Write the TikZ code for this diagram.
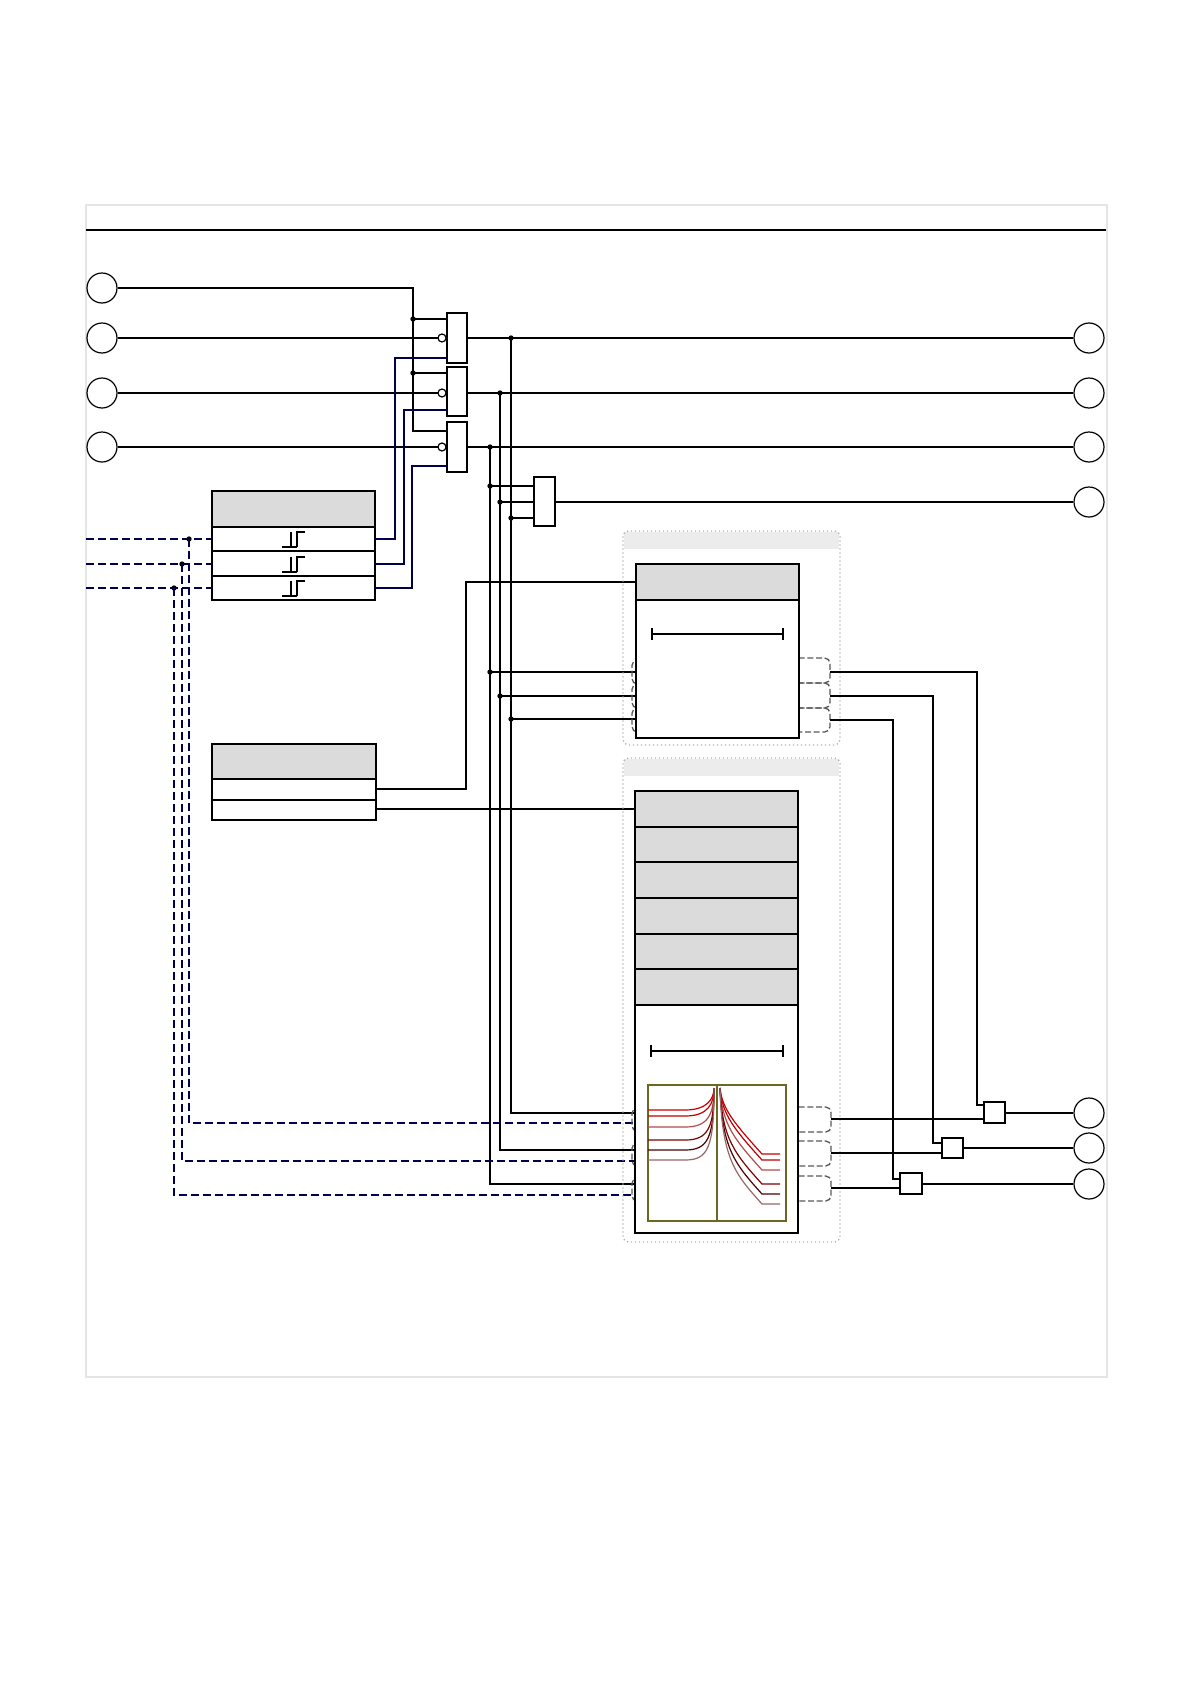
\documentclass[tikz,border=0pt]{standalone}
\begin{document}
\begin{tikzpicture}[x=0.75pt,y=-0.75pt,line width=0.9pt,
  term/.style={draw,circle,minimum size=22.5pt,inner sep=0pt},
  bwire/.style={draw,blue!30!black,line width=1pt},
  dwire/.style={draw,blue!30!black,dash pattern=on 6pt off 3pt,line width=1pt},
  jdot/.style={circle,fill=black,inner sep=0pt,minimum size=4pt},
  port/.style={draw,gray!70!black,dash pattern=on 4.5pt off 2pt,rounded corners=4pt,line width=1pt},
  hdr/.style={fill=gray!28,draw=black},
  cont/.style={draw=gray!60,dotted,rounded corners=4pt,line width=1pt}]
\useasboundingbox (0,0) rectangle (1191,1684);
% frame
\draw[gray!20] (86,205) rectangle (1107,1377);
\draw[line width=1.8pt] (86,230) -- (1106,230);
% terminals
\foreach \n/\y in {L1/288,L2/338,L3/393,L4/447}{\node[term] (\n) at (102,\y) {};}
\foreach \n/\y in {R1/338,R2/393,R3/447,R4/502,R5/1113,R6/1148,R7/1184}{\node[term] (\n) at (1089,\y) {};}
% gates
\draw[fill=white] (447,313) rectangle (467,363);
\draw[line width=1.6pt] (447,313) -- (467,313);
\draw[fill=white] (447,367) rectangle (467,416);
\draw[fill=white] (447,422) rectangle (467,472);
\draw[fill=white] (534,477) rectangle (555,526);
\foreach \y in {338,393,447}{\draw[fill=white] (442,\y) circle (4);}
% bus
\draw (L1) -- (413,288) -- (413,431) -- (447,431);
\draw (413,319) -- (447,319);
\draw (413,373) -- (447,373);
\node[jdot] at (413,319) {}; \node[jdot] at (413,373) {};
\draw (L2) -- (438,338);
\draw (L3) -- (438,393);
\draw (L4) -- (438,447);
% outputs
\draw (467,338) -- (R1); \draw (467,393) -- (R2); \draw (467,447) -- (R3);
\draw (555,502) -- (R4);
\node[jdot] at (511,338) {}; \node[jdot] at (500,393) {}; \node[jdot] at (490,447) {};
\draw (490,447) -- (490,1184) -- (636,1184);
\draw (500,393) -- (500,1150) -- (636,1150);
\draw (511,338) -- (511,1113) -- (636,1113);
\draw (490,486) -- (534,486); \draw (500,502) -- (534,502); \draw (511,518) -- (534,518);
\node[jdot] at (490,486) {}; \node[jdot] at (500,502) {}; \node[jdot] at (511,518) {};
\draw (490,672) -- (636,672); \draw (500,696) -- (636,696); \draw (511,719) -- (636,719);
\node[jdot] at (490,672) {}; \node[jdot] at (500,696) {}; \node[jdot] at (511,719) {};
% schmitt box
\draw[hdr] (212,491) rectangle (375,527);
\draw (212,527) rectangle (375,551); \draw (212,551) rectangle (375,576); \draw (212,576) rectangle (375,600);
\foreach \c in {539,564,588}{
  \draw[line width=0.8pt] (282,\c+8) -- (297,\c+8) (291,\c+8) -- (291,\c-7) (297,\c+8) -- (297,\c-7) -- (305,\c-7);}
\draw[bwire] (375,539) -- (395,539) -- (395,358) -- (447,358);
\draw[bwire] (375,564) -- (404,564) -- (404,410) -- (447,410);
\draw[bwire] (375,588) -- (412,588) -- (412,466) -- (447,466);
% dashed inputs
\draw[dwire] (86,539) -- (212,539); \draw[dwire] (86,564) -- (212,564); \draw[dwire] (86,588) -- (212,588);
\node[jdot] at (189,539) {}; \node[jdot] at (182,564) {}; \node[jdot] at (174,588) {};
\draw[dwire] (189,539) -- (189,1123) -- (636,1123);
\draw[dwire] (182,564) -- (182,1161) -- (636,1161);
\draw[dwire] (174,588) -- (174,1195) -- (636,1195);
% setpoint box
\draw[hdr] (212,744) rectangle (376,779);
\draw (212,779) rectangle (376,800); \draw (212,800) rectangle (376,820);
\draw (376,789) -- (466,789) -- (466,582) -- (637,582);
\draw (376,809) -- (635,809);
% upper container
\fill[gray!15] (624,532) rectangle (839,549);
\draw[cont] (623,531) rectangle (840,745);
\foreach \a/\b in {660/684,684/708,708/732}{\draw[port] (650,\a) -- (632,\a) -- (632,\b) -- (650,\b);}
\foreach \a/\b in {658/683,683/708,708/732}{\draw[port] (790,\a) -- (830,\a) -- (830,\b) -- (790,\b);}
\draw[fill=white] (636,564) rectangle (799,738);
\draw[hdr] (636,564) rectangle (799,600);
\draw (652,634) -- (783,634) (652,628) -- (652,640) (783,628) -- (783,640);
\draw (830,672) -- (977,672) -- (977,1105) -- (984,1105);
\draw (830,696) -- (933,696) -- (933,1143) -- (942,1143);
\draw (830,720) -- (893,720) -- (893,1179) -- (900,1179);
% lower container
\fill[gray!15] (624,759) rectangle (839,776);
\draw[cont] (623,758) rectangle (840,1242);
\foreach \a/\b in {1108/1131,1143/1166,1178/1201}{\draw[port] (650,\a) -- (632,\a) -- (632,\b) -- (650,\b);}
\foreach \a/\b in {1107/1132,1141/1166,1176/1201}{\draw[port] (790,\a) -- (831,\a) -- (831,\b) -- (790,\b);}
\draw[fill=white] (635,791) rectangle (798,1233);
\foreach \a/\b in {791/827,827/862,862/898,898/934,934/969,969/1005}{\draw[hdr] (635,\a) rectangle (798,\b);}
\draw (651,1051) -- (783,1051) (651,1045) -- (651,1057) (783,1045) -- (783,1057);
% chart
\draw[olive!70!black] (648,1085) rectangle (786,1221) (717,1085) -- (717,1221);
\foreach \l/\r/\c in {1110/1154/red!80!black,1116/1160/red!75!black,1127/1170/red!40!gray,1140/1184/red!50!black,1150/1194/black!70!red,1160/1204/gray!80!red}{
  \draw[\c,line width=0.9pt] (648,\l) -- (685,\l) .. controls (708,\l) and (714,\l-12) .. (714,1088);
  \draw[\c,line width=0.9pt] (720,1088) .. controls (722,\r-45) and (735,\r-30) .. (762,\r) -- (780,\r);}
% output boxes
\draw (831,1119) -- (984,1119); \draw (831,1153) -- (942,1153); \draw (831,1188) -- (900,1188);
\draw[fill=white] (984,1102) rectangle (1005,1123);
\draw[fill=white] (942,1138) rectangle (963,1158);
\draw[fill=white] (900,1173) rectangle (922,1194);
\draw (1005,1113) -- (R5); \draw (963,1148) -- (R6); \draw (922,1184) -- (R7);
\end{tikzpicture}
\end{document}
